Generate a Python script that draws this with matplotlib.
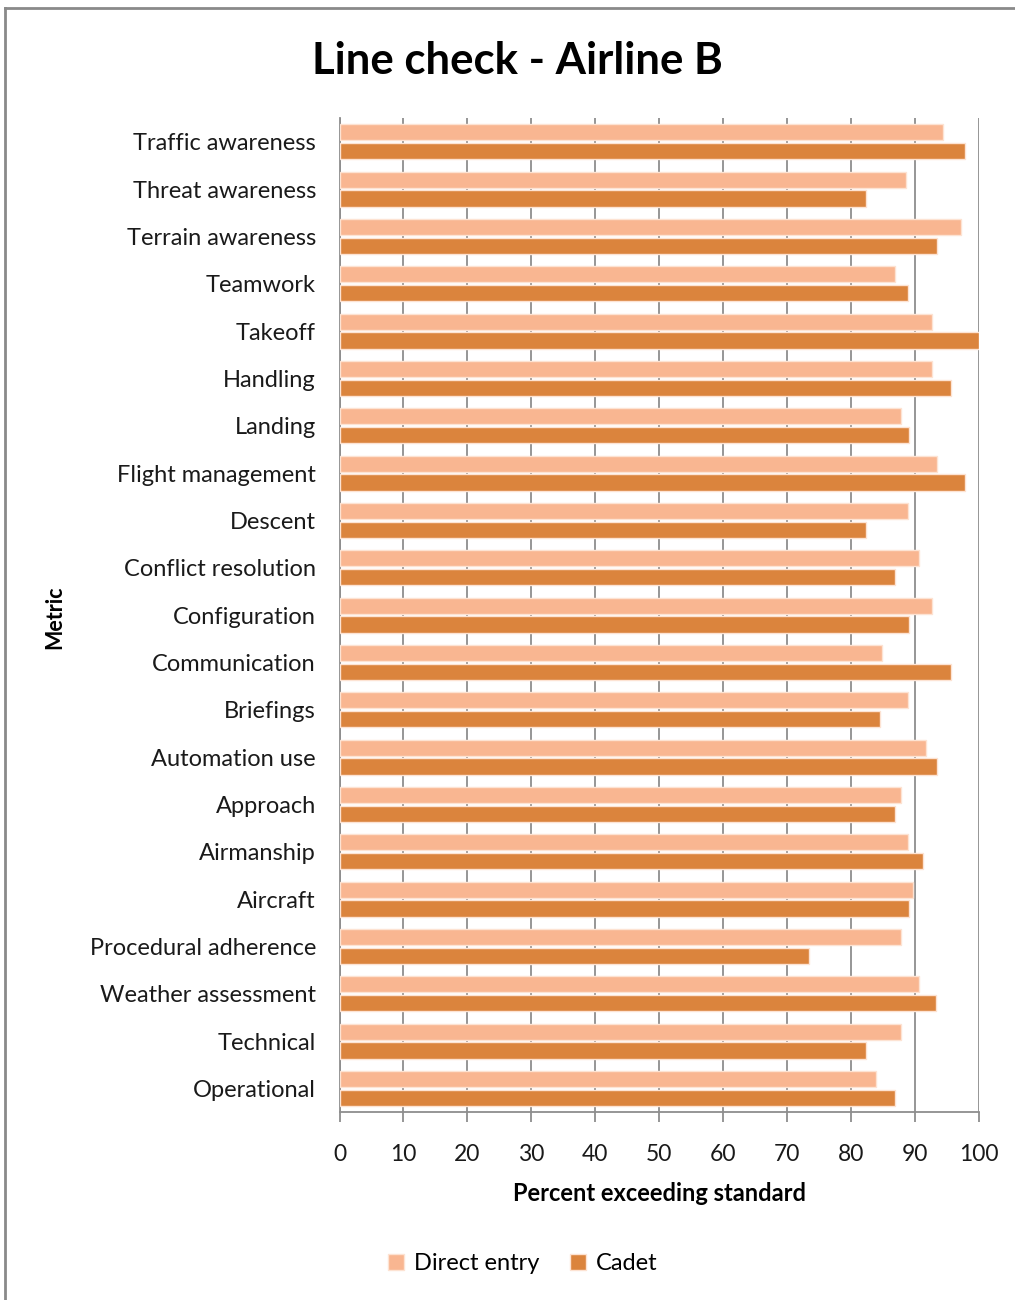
import matplotlib.pyplot as plt
import matplotlib.lines as mlines
from matplotlib.patches import Patch
import numpy as np

plt.rcParams['font.family'] = ['Lato', 'DejaVu Sans']

#Metrics listed top to bottom as shown on chart
metrics = ['Traffic awareness', 'Threat awareness', 'Terrain awareness', 'Teamwork',
           'Takeoff', 'Handling', 'Landing', 'Flight management', 'Descent',
           'Conflict resolution', 'Configuration', 'Communication', 'Briefings',
           'Automation use', 'Approach', 'Airmanship', 'Aircraft',
           'Procedural adherence', 'Weather assessment', 'Technical', 'Operational']
direct_entry = [94.4, 88.7, 97.2, 86.9, 92.7, 92.7, 87.8, 93.5, 88.9, 90.7, 92.7,
                84.9, 88.9, 91.7, 87.8, 88.9, 89.7, 87.8, 90.7, 87.8, 83.9]
cadet = [97.8, 82.4, 93.5, 88.9, 100.0, 95.7, 89.1, 97.8, 82.4, 86.9, 89.1,
         95.7, 84.5, 93.5, 86.9, 91.3, 89.1, 73.4, 93.4, 82.4, 86.9]
xticks = list(range(0, 101, 10))

LIGHT = '#F9B691'
DARK = '#DB843D'
EDGE = '#FDE3D3'
GRID = '#8E8E8E'
TXT = '#1A1A1A'

fig = plt.figure(figsize=(10.15, 13), dpi=100)
ax = fig.add_axes([0.3345, 0.1446, 0.6297, 0.7646])

y = np.arange(len(metrics))
ax.barh(y - 0.2, direct_entry, height=0.34, color=LIGHT, edgecolor=EDGE,
        linewidth=1, label='Direct entry', zorder=3)
ax.barh(y + 0.2, cadet, height=0.34, color=DARK, edgecolor=EDGE,
        linewidth=1, label='Cadet', zorder=3)

ax.set_ylim(len(metrics) - 0.5, -0.5)
ax.set_xlim(0, 100)
ax.set_xticks(xticks)
ax.set_yticks(y)
ax.set_yticklabels(metrics)
ax.xaxis.grid(True, color=GRID, linewidth=1.3, zorder=0)

for side in ['top', 'right']:
    ax.spines[side].set_visible(False)
for side in ['left', 'bottom']:
    ax.spines[side].set_color(GRID)
    ax.spines[side].set_linewidth(1.3)

ax.tick_params(axis='y', length=0, pad=17, labelsize=17, labelcolor=TXT)
ax.tick_params(axis='x', length=7, width=1.3, color=GRID, pad=16,
               labelsize=16.5, labelcolor=TXT)

ax.set_xlabel('Percent exceeding standard', fontsize=17, fontweight='bold',
              color='black', labelpad=12)
fig.text(0.054, 0.525, 'Metric', rotation=90, fontsize=15.5, fontweight='bold',
         ha='center', va='center')

fig.suptitle('Line check - Airline B', x=0.51, y=0.953, fontsize=31.5,
             fontweight='bold', va='center')

handles = [Patch(facecolor=LIGHT, edgecolor=EDGE), Patch(facecolor=DARK, edgecolor=EDGE)]
fig.legend(handles, ['Direct entry', 'Cadet'], loc='center', bbox_to_anchor=(0.515, 0.028),
           ncol=2, frameon=False, fontsize=17, handlelength=0.7, handleheight=0.7,
           handletextpad=0.4, columnspacing=1.3)

#Outer chart border
fig.add_artist(mlines.Line2D([0.005, 0.005], [0, 0.9938], color='#8A8A8A', lw=2,
                             transform=fig.transFigure))
fig.add_artist(mlines.Line2D([0.005, 1.0], [0.9938, 0.9938], color='#8A8A8A', lw=2,
                             transform=fig.transFigure))

fig.savefig('out.png', dpi=100)
